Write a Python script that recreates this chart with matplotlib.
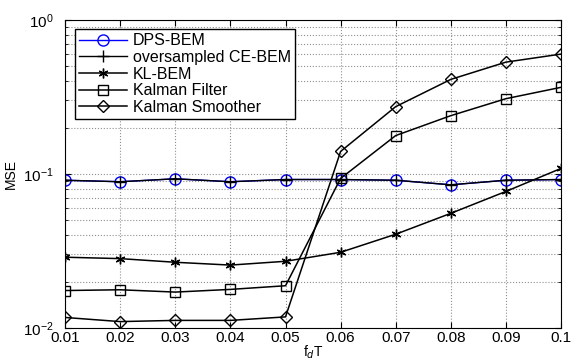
import numpy as np
import matplotlib.pyplot as plt
from matplotlib.ticker import LogLocator, NullFormatter

plt.rcParams['font.family'] = ['Liberation Sans', 'DejaVu Sans']

fdT = [0.01, 0.02, 0.03, 0.04, 0.05, 0.06, 0.07, 0.08, 0.09, 0.1]
dps_bem = [0.091, 0.089, 0.093, 0.089, 0.092, 0.092, 0.091, 0.085, 0.091, 0.092]
ce_bem = [0.091, 0.089, 0.093, 0.089, 0.092, 0.092, 0.091, 0.085, 0.091, 0.092]
kl_bem = [0.0288, 0.0282, 0.0267, 0.0256, 0.0271, 0.031, 0.0406, 0.0555, 0.077, 0.1086]
kalman_filter = [0.0175, 0.0177, 0.0171, 0.0178, 0.0188, 0.0935, 0.1775, 0.239, 0.308, 0.365]
kalman_smoother = [0.0117, 0.0110, 0.0112, 0.0112, 0.0118, 0.140, 0.2735, 0.411, 0.532, 0.600]

fig = plt.figure(figsize=(5.71, 3.62), dpi=100)
ax = fig.add_axes([0.114, 0.094, 0.8685, 0.851])

ax.plot(fdT, dps_bem, color='#0000ff', marker='o', mfc='none', ms=8, lw=1, label='DPS-BEM')
ax.plot(fdT, ce_bem, color='k', marker='+', ms=8, lw=1, label='oversampled CE-BEM')
ax.plot(fdT, kl_bem, color='k', marker=(6, 2, 0), ms=7, lw=1.1, label='KL-BEM')
ax.plot(fdT, kalman_filter, color='k', marker='s', mfc='none', ms=6.5, lw=1.1, label='Kalman Filter')
ax.plot(fdT, kalman_smoother, color='k', marker='D', mfc='none', ms=6.5, lw=1.1, label='Kalman Smoother')

ax.set_yscale('log')
ax.set_xlim(0.01, 0.1)
ax.set_ylim(1e-2, 1)
ax.set_xticks(fdT)
ax.set_xticklabels(['0.01', '0.02', '0.03', '0.04', '0.05', '0.06', '0.07', '0.08', '0.09', '0.1'])
ax.yaxis.set_minor_locator(LogLocator(base=10, subs=np.arange(2, 10)))
ax.yaxis.set_minor_formatter(NullFormatter())
ax.tick_params(which='both', direction='in', top=True, right=True, labelsize=11)
ax.tick_params(axis='x', pad=2)
ax.tick_params(axis='y', pad=8)
ax.tick_params(which='major', length=4)
ax.tick_params(which='minor', length=2)
ax.grid(True, which='major', ls=':', color='#909090', lw=0.8)
ax.grid(True, which='minor', axis='y', ls=':', color='#909090', lw=0.8)

ax.set_xlabel('f$_d$T', fontsize=10, labelpad=-1)
ax.set_ylabel('MSE', fontsize=10, labelpad=4)

leg = ax.legend(loc='upper left', fontsize=11.5, fancybox=False, framealpha=1,
                edgecolor='k', borderaxespad=0.6, handlelength=3.0,
                labelspacing=0.1, borderpad=0.25, handletextpad=0.4)
leg.get_frame().set_linewidth(1)

fig.savefig('out.png', dpi=100)
